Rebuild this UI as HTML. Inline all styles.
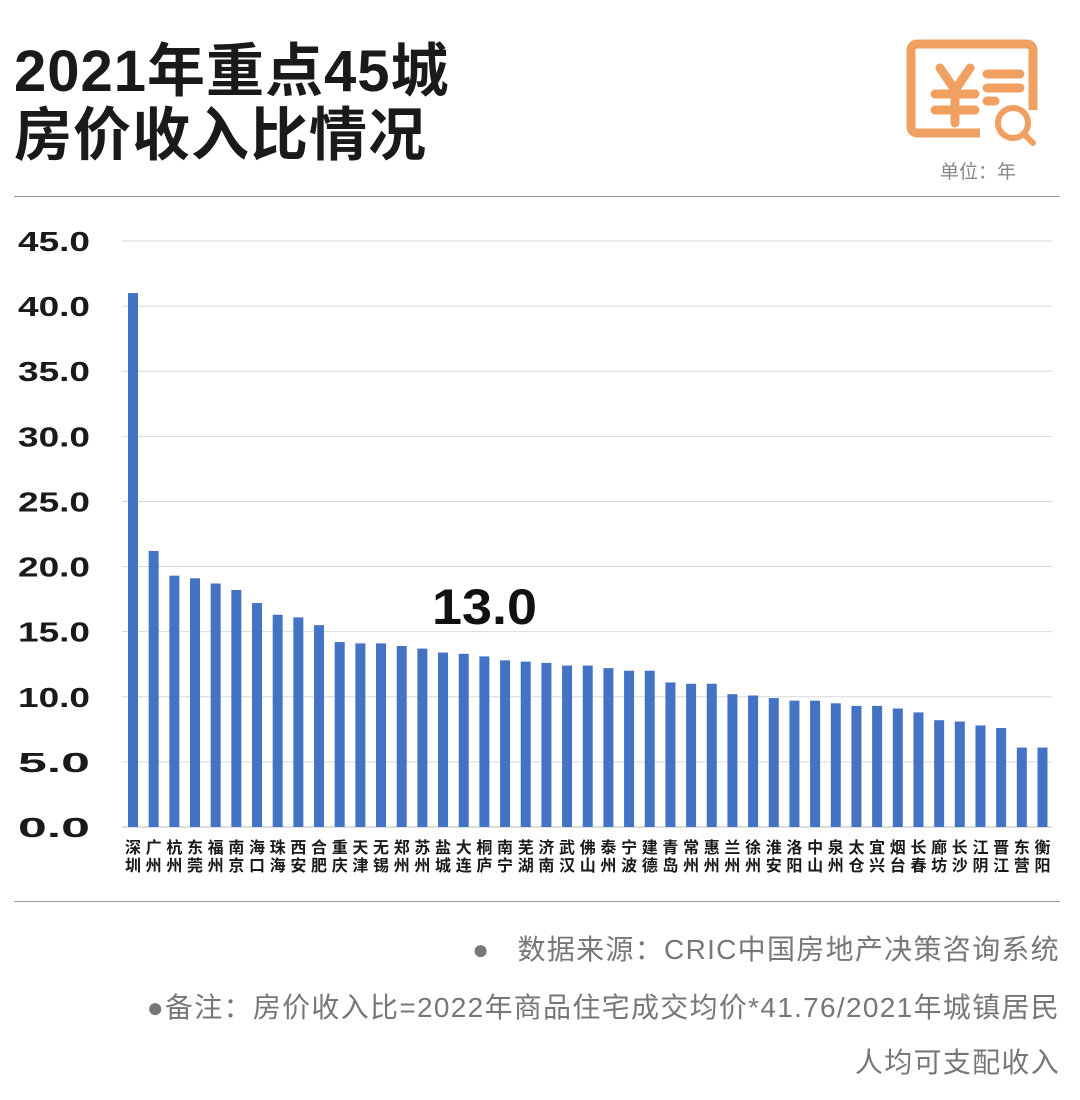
<!DOCTYPE html>
<html><head><meta charset="utf-8"><style>
body{margin:0;width:1080px;height:1100px;background:#fff;font-family:"Liberation Sans","Noto Sans CJK SC",sans-serif;overflow:hidden;position:relative}
.t{position:absolute;left:14px;font-weight:bold;font-size:58px;color:#1a1a1a;line-height:64px;letter-spacing:1px}
.note{position:absolute;right:20px;font-size:28px;color:#777;text-align:right;white-space:nowrap;letter-spacing:1.3px}
</style></head><body>
<div class="t" style="top:40px">2021年重点45城<br>房价收入比情况</div>
<svg style="position:absolute;left:905px;top:38px" width="135" height="110" viewBox="0 0 135 110">
<path d="M75,95 H12 a6,6 0 0 1 -6,-6 V12 a6,6 0 0 1 6,-6 H122 a6,6 0 0 1 6,6 V72" fill="none" stroke="#f0a060" stroke-width="9"/>
<g stroke="#f0a060" stroke-width="9" stroke-linecap="round" fill="none">
<path d="M35,30 L50,52 L65,30 M50,52 V85 M30,56 H70 M30,72 H70"/>
<path d="M82,36 H115 M82,50 H115 M82,63 H90"/>
<circle cx="108" cy="85" r="15" stroke-width="6"/><path d="M119,96 L128,105" stroke-width="6"/>
</g></svg>
<div style="position:absolute;left:940px;top:157px;font-size:19px;color:#888">单位：年</div>
<div style="position:absolute;left:14px;top:196px;width:1046px;height:1px;background:#999"></div>
<svg id="chart" style="position:absolute;left:0;top:0" width="1080" height="900"></svg>
<div style="position:absolute;left:14px;top:901px;width:1046px;height:1px;background:#999"></div>
<div class="note" style="top:928px">●&nbsp;&nbsp;&nbsp;数据来源：CRIC中国房地产决策咨询系统</div>
<div class="note" style="top:986px">●备注：房价收入比=2022年商品住宅成交均价*41.76/2021年城镇居民</div>
<div class="note" style="top:1041px">人均可支配收入</div>
<script>
const cities=["深圳","广州","杭州","东莞","福州","南京","海口","珠海","西安","合肥","重庆","天津","无锡","郑州","苏州","盐城","大连","桐庐","南宁","芜湖","济南","武汉","佛山","泰州","宁波","建德","青岛","常州","惠州","兰州","徐州","淮安","洛阳","中山","泉州","太仓","宜兴","烟台","长春","廊坊","长沙","江阴","晋江","东营","衡阳"];
const values=[41.0,21.2,19.3,19.1,18.7,18.2,17.2,16.3,16.1,15.5,14.2,14.1,14.1,13.9,13.7,13.4,13.3,13.1,12.8,12.7,12.6,12.4,12.4,12.2,12.0,12.0,11.1,11.0,11.0,10.2,10.1,9.9,9.7,9.7,9.5,9.3,9.3,9.1,8.8,8.2,8.1,7.8,7.6,6.1,6.1];
const ticks=[0,5,10,15,20,25,30,35,40,45];
const svg=document.getElementById('chart');const NS='http://www.w3.org/2000/svg';
const y=v=>827-v*(586/45);const x=i=>133+i*20.67;
function mk(t,a){const e=document.createElementNS(NS,t);for(const k in a)e.setAttribute(k,a[k]);svg.appendChild(e);return e;}
ticks.forEach(t=>{
 const l=mk('line',{x1:122,x2:1052,y1:y(t),y2:y(t),stroke:t?'#d9d9d9':'#bbb','stroke-width':1});
 
 
 const tx=mk('text',{x:18,y:y(t)+10,'font-size':28,'font-weight':'bold',fill:'#1a1a1a',textLength:72,lengthAdjust:'spacingAndGlyphs'});
 tx.textContent=t.toFixed(1);
 
 
});
values.forEach((v,i)=>{
 const r=mk('rect',{x:x(i)-5,y:y(v),width:10,height:y(0)-y(v),fill:'#4472c4'});
 
 
 [0,1].forEach(k=>{
  const t=mk('text',{x:x(i),y:853+k*18,'text-anchor':'middle','font-size':16,'font-weight':'bold',fill:'#1a1a1a'});
  t.textContent=cities[i][k];
  
  
 });
});
const lab=mk('text',{x:432,y:624,'font-size':50,'font-weight':'bold',fill:'#111',textLength:105,lengthAdjust:'spacingAndGlyphs'});
lab.textContent='13.0';


</script>
</body></html>
